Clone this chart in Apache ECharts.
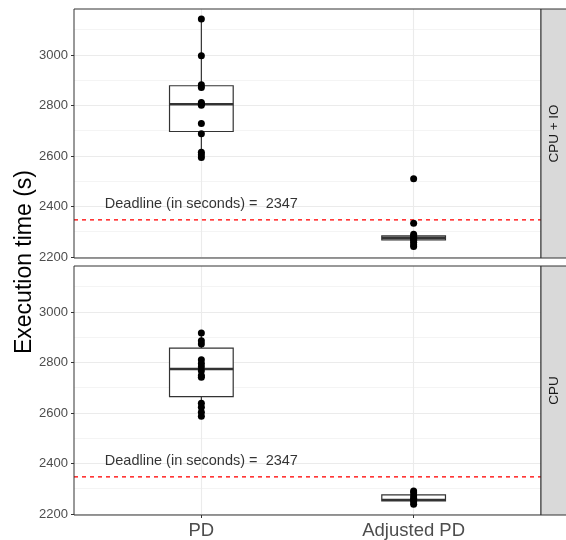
<!DOCTYPE html>
<html>
<head>
<meta charset="utf-8">
<script src="https://cdn.jsdelivr.net/npm/echarts/dist/echarts.min.js"></script>
<style>
html,body{margin:0;padding:0;background:#fff;}
#chart{width:566px;height:540px;}
</style>
</head>
<body>
<div id="chart"></div>
<script>
// ---------- data ----------
var CATEGORIES = ['PD', 'Adjusted PD'];
var PANELS = ['CPU + IO', 'CPU'];
var Y_MAJOR_TICKS = [2200, 2400, 2600, 2800, 3000];
var Y_MINOR_TICKS = [2300, 2500, 2700, 2900, 3100];
var X_TICKS = [1, 2];
var X_RANGE = [0.4, 2.6];
var Y_RANGE = [2196, 3182];
var DEADLINE = 2347;
var DEADLINE_LABEL = 'Deadline (in seconds) =  2347';
var DEADLINE_LABEL_Y = 2410;

// CPU + IO panel
var cpuio_pd = [3142, 2997, 2882, 2871, 2812, 2806, 2801, 2729, 2688, 2615, 2605, 2594];
var cpuio_adj = [2510, 2334, 2290, 2282, 2276, 2272, 2266, 2258, 2248, 2242];
// box stats: [lower whisker, Q1, median, Q3, upper whisker]
var cpuio_pd_box = [2594, 2697, 2805, 2878, 3142];
var cpuio_adj_box = [2242, 2268, 2276, 2284, 2290];

// CPU panel
var cpu_pd = [2917, 2886, 2873, 2811, 2796, 2783, 2767, 2748, 2741, 2639, 2623, 2603, 2587];
var cpu_adj = [2291, 2284, 2271, 2262, 2255, 2248, 2239];
var cpu_pd_box = [2587, 2665, 2774, 2857, 2917];
var cpu_adj_box = [2239, 2252, 2256, 2276, 2291];

var BOX_WIDTH = 0.3; // in x units

// ---------- build ----------
function pts(x, arr) { return arr.map(function (v) { return [x, v]; }); }
function boxRow(x, b) { return [x].concat(b); }

var chart = echarts.init(document.getElementById('chart'), null, {renderer: 'canvas'});

var FONT = '"Liberation Sans", Arial, Helvetica, sans-serif';
var GRIDS = [
  {left: 74, top: 9, width: 467, height: 249},
  {left: 74, top: 266, width: 467, height: 249}
];

function renderBox(params, api) {
  var x = api.value(0);
  var lo = api.coord([x, api.value(1)]);
  var q1 = api.coord([x, api.value(2)]);
  var med = api.coord([x, api.value(3)]);
  var q3 = api.coord([x, api.value(4)]);
  var hi = api.coord([x, api.value(5)]);
  var w = api.size([BOX_WIDTH, 0])[0];
  var cx = lo[0];
  var s = {stroke: '#333333', lineWidth: 1.2};
  return {
    type: 'group',
    children: [
      {type: 'line', shape: {x1: cx, y1: lo[1], x2: cx, y2: q1[1]}, style: s},
      {type: 'line', shape: {x1: cx, y1: q3[1], x2: cx, y2: hi[1]}, style: s},
      {type: 'rect', shape: {x: cx - w / 2, y: q3[1], width: w, height: q1[1] - q3[1]},
        style: {fill: '#ffffff', stroke: '#333333', lineWidth: 1.2}},
      {type: 'line', shape: {x1: cx - w / 2, y1: med[1], x2: cx + w / 2, y2: med[1]},
        style: {stroke: '#333333', lineWidth: 2.4}}
    ]
  };
}

function renderHLine(params, api) {
  var y = api.value(0);
  var a = api.coord([X_RANGE[0], y]);
  var b = api.coord([X_RANGE[1], y]);
  return {
    type: 'line',
    shape: {x1: a[0], y1: a[1], x2: b[0], y2: b[1]},
    style: {stroke: '#FF0000', lineWidth: 1.3, lineDash: [4, 4], opacity: 1}
  };
}

var xAxes = [], yAxes = [], series = [], graphics = [];
var panelData = [
  {pd: cpuio_pd, adj: cpuio_adj, pdBox: cpuio_pd_box, adjBox: cpuio_adj_box},
  {pd: cpu_pd, adj: cpu_adj, pdBox: cpu_pd_box, adjBox: cpu_adj_box}
];

GRIDS.forEach(function (g, i) {
  var isBottom = i === GRIDS.length - 1;
  xAxes.push({
    gridIndex: i, type: 'value', min: X_RANGE[0], max: X_RANGE[1],
    axisLine: {show: false},
    splitLine: {show: false},
    axisTick: {show: isBottom, customValues: X_TICKS, length: 3, lineStyle: {color: '#333333', width: 1}},
    axisLabel: {
      show: isBottom, customValues: X_TICKS, margin: 6,
      color: '#4D4D4D', fontSize: 18.5, fontFamily: FONT,
      formatter: function (v) { return CATEGORIES[Math.round(v) - 1] || ''; }
    }
  });
  yAxes.push({
    gridIndex: i, type: 'value', min: Y_RANGE[0], max: Y_RANGE[1],
    axisLine: {show: false},
    splitLine: {show: false},
    axisTick: {show: true, customValues: Y_MAJOR_TICKS, length: 3, lineStyle: {color: '#333333', width: 1}},
    axisLabel: {
      show: true, customValues: Y_MAJOR_TICKS, margin: 6, color: '#4D4D4D', fontSize: 13, fontFamily: FONT,
      formatter: function (v) { return String(Math.round(v)); }
    }
  });

  // gridlines
  series.push({
    type: 'line', xAxisIndex: i, yAxisIndex: i, data: [], z: 0, silent: true,
    markLine: {
      silent: true, symbol: 'none', animation: false, label: {show: false}, z: 0,
      data: Y_MINOR_TICKS.map(function (v) { return {yAxis: v, lineStyle: {color: '#EDEDED', width: 0.6, type: 'solid'}}; })
        .concat(Y_MAJOR_TICKS.map(function (v) { return {yAxis: v, lineStyle: {color: '#EBEBEB', width: 1.1, type: 'solid'}}; }))
        .concat(X_TICKS.map(function (v) { return {xAxis: v, lineStyle: {color: '#EBEBEB', width: 1.1, type: 'solid'}}; }))
    }
  });

  var d = panelData[i];

  // deadline line
  series.push({
    type: 'custom', xAxisIndex: i, yAxisIndex: i, z: 1, silent: true,
    renderItem: renderHLine,
    encode: {y: 0},
    data: [[DEADLINE]]
  });

  series.push({
    type: 'custom', xAxisIndex: i, yAxisIndex: i, z: 2, silent: true,
    renderItem: renderBox,
    encode: {x: 0, y: [1, 2, 3, 4, 5]},
    data: [boxRow(1, d.pdBox), boxRow(2, d.adjBox)]
  });

  series.push({
    type: 'scatter', xAxisIndex: i, yAxisIndex: i, z: 3, silent: true,
    symbol: 'circle', symbolSize: 7,
    itemStyle: {color: '#000000', opacity: 1},
    data: pts(1, d.pd).concat(pts(2, d.adj))
  });

  series.push({
    type: 'scatter', xAxisIndex: i, yAxisIndex: i, z: 4, silent: true,
    symbolSize: 0,
    data: [[1, DEADLINE_LABEL_Y]],
    label: {
      show: true, position: 'inside', formatter: DEADLINE_LABEL,
      color: '#000000', fontSize: 14.5, fontFamily: FONT
    }
  });

  // panel border
  graphics.push({
    type: 'rect', z: 100,
    shape: {x: g.left, y: g.top, width: g.width, height: g.height},
    style: {fill: null, stroke: '#333333', lineWidth: 1}
  });
  // strip
  graphics.push({
    type: 'rect', z: 100,
    shape: {x: g.left + g.width, y: g.top, width: 27, height: g.height},
    style: {fill: '#D9D9D9', stroke: '#333333', lineWidth: 1}
  });
  graphics.push({
    type: 'text', z: 101,
    x: g.left + g.width + 13, y: g.top + g.height / 2,
    rotation: Math.PI / 2,
    style: {text: PANELS[i], fill: '#1A1A1A', fontSize: 13.5, fontFamily: FONT, align: 'center', verticalAlign: 'middle'}
  });
});

graphics.push({
  type: 'text', z: 101,
  x: 25, y: 262, rotation: Math.PI / 2,
  style: {text: 'Execution time (s)', fill: '#000000', fontSize: 23, fontFamily: FONT, align: 'center', verticalAlign: 'middle'}
});

chart.setOption({
  backgroundColor: '#ffffff',
  animation: false,
  grid: GRIDS.map(function (g) { return {left: g.left, top: g.top, width: g.width, height: g.height, show: false}; }),
  xAxis: xAxes,
  yAxis: yAxes,
  series: series,
  graphic: graphics
});
</script>
</body>
</html>
